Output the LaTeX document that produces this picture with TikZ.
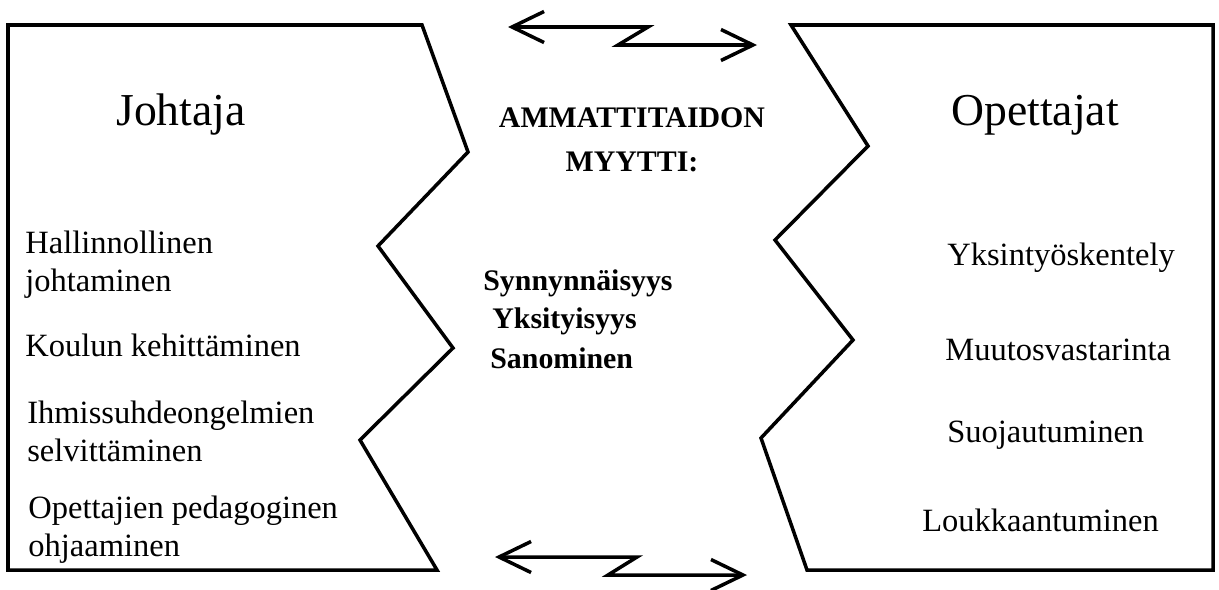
\documentclass[tikz,border=0pt]{standalone}
\usepackage{fontspec}
\setmainfont{Liberation Serif}
\usetikzlibrary{arrows.meta}

\begin{document}
\begin{tikzpicture}
        [%%%%%%%%%%%%%%%%%%%%%%%%%%%%%%
        x=0.02cm, y=-0.02cm,
        zig/.style={draw=black, line width=2pt, line join=miter},
        twoway/.style={line width=2pt, {Straight Barb[length=0.64cm,width=0.62cm]}-{Straight Barb[length=0.64cm,width=0.62cm]}},
        head/.style={inner sep=0pt, font=\fontsize{26}{30}\selectfont},
        item/.style={inner sep=0pt, align=left, anchor=west, font=\fontsize{18.5}{21.5}\selectfont},
        myth/.style={inner sep=0pt, font=\bfseries\fontsize{17}{20}\selectfont},
        ]%%%%%%%%%%%%%%%%%%%%%%%%%%%%%%

        \useasboundingbox (0,0) rectangle (1219,589);

        \draw[zig] (8,25) -- (422,25) -- (468,152) -- (378,246) -- (453,348)
                -- (360,440) -- (437,570) -- (8,570) -- cycle;
        \draw[zig] (791,25) -- (1213,25) -- (1213,570) -- (807,570) -- (761,438)
                -- (853,340) -- (775,240) -- (868,146) -- cycle;

        \coordinate (upL) at (508,27);
        \coordinate (upR) at (757,45);
        \coordinate (loL) at (495,557);
        \coordinate (loR) at (747,575);
        \draw[twoway] (upL) -- (648,27) -- (618,45) -- (upR);
        \draw[twoway] (loL) -- (637,557) -- (608,575) -- (loR);

        \node[head] (johtaja) at (181,115) {Johtaja};
        \node[head] (opettajat) at (1035,115) {Opettajat};

        \node[myth] (ammatti) at (632,118) {AMMATTITAIDON};
        \node[myth] (myytti) at (632,162) {MYYTTI:};
        \node[myth,anchor=west] (synn) at (483,283) {Synnynnäisyys};
        \node[myth,anchor=west] (yksit) at (492,321) {Yksityisyys};
        \node[myth,anchor=west] (sano) at (490,358) {Sanominen};

        \node[item] (hall) at (25,265) {Hallinnollinen\\johtaminen};
        \node[item] (koulu) at (25,345) {Koulun kehittäminen};
        \node[item] (ihmis) at (27,431) {Ihmissuhdeongelmien\\selvittäminen};
        \node[item] (pedag) at (28,530) {Opettajien pedagoginen\\ohjaaminen};

        \node[item] (yksin) at (947,258) {Yksintyöskentely};
        \node[item] (muutos) at (945,350) {Muutosvastarinta};
        \node[item] (suoja) at (947,435) {Suojautuminen};
        \node[item] (loukk) at (922,520) {Loukkaantuminen};
      \end{tikzpicture}
\end{document}
